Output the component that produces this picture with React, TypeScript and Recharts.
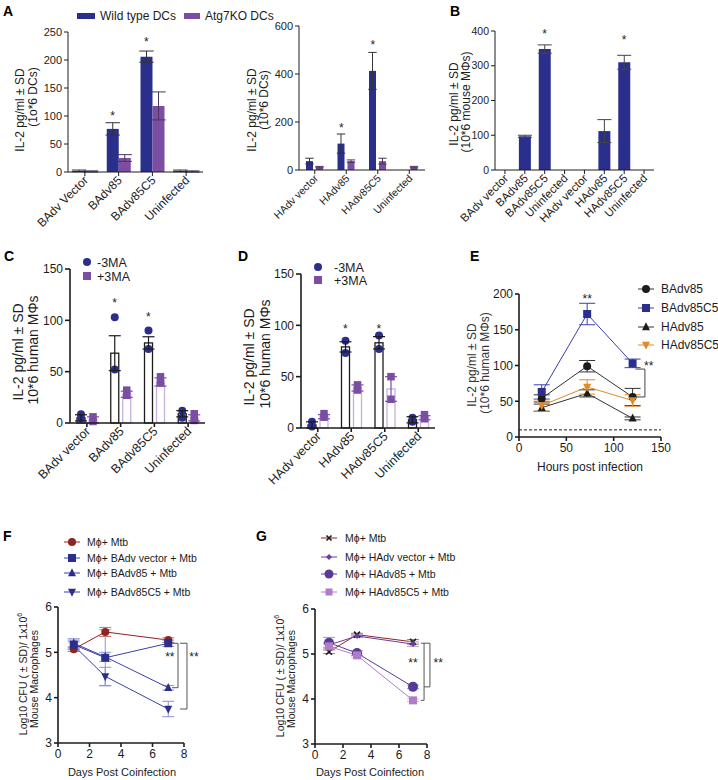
import React from "react";
import {
  BarChart,
  Bar,
  XAxis,
  YAxis,
  ErrorBar,
  LineChart,
  Line,
  ReferenceLine,
  ReferenceDot,
} from "recharts";

const FONT = "'Liberation Sans', Arial, Helvetica, sans-serif";
const INK = "#1c1c1c";
const NAVY = "#2b2f8c";
const PURPLE = "#7b4ea3";
const LILAC = "#c6b0de";
const DARKRED = "#8e2424";
const ORANGE = "#e08a2a";
const VIOLET = "#6a3d9e";
const PLUM = "#5a3a98";
const ORCHID = "#b07cc8";

// A (left): IL-2 from BAdv infected DCs
const aBCats = ["BAdv Vector", "BAdv85", "BAdv85C5", "Uninfected"];
const aBWild = [2, 77, 206, 2];
const aBWildSd = [1.5, 11, 10, 1.5];
const aBKo = [1, 25, 118, 1];
const aBKoSd = [1, 6, 25, 1];
const aBStars: [string, number][] = [["BAdv85", 105], ["BAdv85C5", 237]];

// A (right): HAdv infected DCs
const aHCats = ["HAdv vector", "HAdv85", "HAdv85C5", "Uninfected"];
const aHWild = [37, 110, 413, 0];
const aHWildSd = [12, 40, 77, 0];
const aHKo = [12, 37, 37, 12];
const aHKoSd = [3, 5, 12, 3];
const aHStars: [string, number][] = [["HAdv85", 187], ["HAdv85C5", 533]];

// B: mouse macrophages
const bCats = ["BAdv vector", "BAdv85", "BAdv85C5", "Uninfected", "HAdv vector", "HAdv85", "HAdv85C5", "Uninfected"];
const bMean = [0, 97, 348, 0, 0, 112, 310, 0];
const bSd = [0, 3, 12, 0, 0, 33, 20, 0];
const bStars: [number, number][] = [[2, 400], [6, 382]];

// C: human macrophages, BAdv
const cCats = ["BAdv vector", "BAdv85", "BAdv85C5", "Uninfected"];
const cMinus = [5, 68, 78, 9];
const cMinusSd = [3, 17, 6, 3];
const cPlus = [3, 28, 40, 5];
const cPlusSd = [3, 3, 4, 3];
const cMinusPts = [[8.5, 4.6], [103, 52], [90, 72], [12, 5]];
const cPlusPts = [[6, 1.5], [32, 27], [45, 39], [9, 2.5]];
const cStars: [string, number][] = [["BAdv85", 120], ["BAdv85C5", 106]];

// D: human macrophages, HAdv
const dCats = ["HAdv vector", "HAdv85", "HAdv85C5", "Uninfected"];
const dMinus = [3, 79, 83, 8];
const dMinusSd = [3, 5, 6, 3];
const dPlus = [11, 39, 38, 10];
const dPlusSd = [2, 3, 12, 2];
const dMinusPts = [[6, 1.5], [85, 73], [90, 77], [10, 6]];
const dPlusPts = [[14, 10.5], [42, 37], [50, 28], [13, 9]];
const dStars: [string, number][] = [["HAdv85", 99], ["HAdv85C5", 99]];

// E: kinetics
const eHours = [24, 72, 120];
const eB85 = [54, 99, 56];
const eB85Sd = [5, 8, 12];
const eB85C5 = [63, 172, 103];
const eB85C5Sd = [10, 15, 6];
const eH85 = [41, 61, 26];
const eH85Sd = [5, 5, 2];
const eH85C5 = [44, 70, 51];
const eH85C5Sd = [8, 10, 8];

// F: BAdv, CFU
const fDays = [1, 3, 7];
const fMtb = [5.07, 5.45, 5.27];
const fMtbSd = [0.05, 0.1, 0.05];
const fVec = [5.17, 4.88, 5.2];
const fVecSd = [0.1, 0.62, 0.07];
const f85 = [5.2, 4.9, 4.22];
const f85Sd = [0.1, 0.1, 0.05];
const f85C5 = [5.15, 4.47, 3.75];
const f85C5Sd = [0.08, 0.2, 0.17];

// G: HAdv, CFU
const gDays = [1, 3, 7];
const gMtb = [5.05, 5.43, 5.27];
const gMtbSd = [0.04, 0.03, 0.05];
const gVec = [5.2, 5.4, 5.22];
const gVecSd = [0.05, 0.03, 0.05];
const g85 = [5.25, 5.02, 4.27];
const g85Sd = [0.12, 0.05, 0.04];
const g85C5 = [5.17, 4.97, 3.97];
const g85C5Sd = [0.05, 0.04, 0.03];

const PAD = 24;
function frame(x0: number, y0: number, x1: number, y1: number, yw: number, xh: number) {
  return {
    style: { position: "absolute" as const, left: x0 - yw, top: y0 - PAD },
    width: x1 - x0 + yw + PAD,
    height: y1 - y0 + PAD + xh,
    margin: { top: PAD, right: PAD, bottom: 0, left: 0 },
  };
}

const AX = { stroke: INK, strokeWidth: 1 };
const AX2 = { stroke: INK, strokeWidth: 1.6 };

function Marker({ kind, cx, cy, s, color }: any) {
  if (kind === "circle") return <circle cx={cx} cy={cy} r={s / 2} fill={color} />;
  if (kind === "square") return <rect x={cx - s / 2} y={cy - s / 2} width={s} height={s} fill={color} />;
  if (kind === "tri")
    return <polygon points={`${cx},${cy - s * 0.6} ${cx - s / 2},${cy + s * 0.4} ${cx + s / 2},${cy + s * 0.4}`} fill={color} />;
  if (kind === "down")
    return <polygon points={`${cx},${cy + s * 0.6} ${cx - s / 2},${cy - s * 0.4} ${cx + s / 2},${cy - s * 0.4}`} fill={color} />;
  if (kind === "diamond")
    return <polygon points={`${cx},${cy - s / 2} ${cx + s / 2},${cy} ${cx},${cy + s / 2} ${cx - s / 2},${cy}`} fill={color} />;
  // cross
  const h = s / 2;
  return (
    <g stroke={color} strokeWidth={1.6}>
      <line x1={cx - h} y1={cy - h} x2={cx + h} y2={cy + h} />
      <line x1={cx - h} y1={cy + h} x2={cx + h} y2={cy - h} />
    </g>
  );
}

function SlantTick(props: any) {
  const { x, y, payload, size, labels } = props;
  const text = labels ? labels[payload.value] : payload.value;
  return (
    <text transform={`translate(${x + 4},${y + 3}) rotate(-45)`} textAnchor="end" fontSize={size} fill={INK}>
      {text}
    </text>
  );
}

const starShape = (dx: number, text = "*") => (p: any) => (
  <text x={p.cx + dx} y={p.cy + 7} textAnchor="middle" fontSize={12} fill={INK}>
    {text}
  </text>
);

function DcBars({ plot, cats, wild, wildSd, ko, koSd, stars, max, ticks, barSize, gap, catSize }: any) {
  const data = cats.map((c: string, i: number) => ({ cat: c, wild: wild[i], wildSd: wildSd[i], ko: ko[i], koSd: koSd[i] }));
  const f = frame(plot[0], plot[1], plot[2], plot[3], 40, 80);
  return (
    <div style={f.style}>
      <BarChart width={f.width} height={f.height} margin={f.margin} data={data} barGap={gap}>
        <XAxis dataKey="cat" interval={0} height={80} tickSize={4} axisLine={AX} tickLine={AX}
          tick={(p: any) => <SlantTick {...p} size={catSize} />} />
        <YAxis width={40} domain={[0, max]} ticks={ticks} interval={0} tickSize={4} axisLine={AX} tickLine={AX}
          tick={{ fontSize: 11, fill: INK }} />
        <Bar dataKey="wild" fill={NAVY} barSize={barSize} isAnimationActive={false}>
          <ErrorBar dataKey="wildSd" direction="y" width={barSize * 0.6} stroke="#333" strokeWidth={1} isAnimationActive={false} />
        </Bar>
        <Bar dataKey="ko" fill={PURPLE} barSize={barSize} isAnimationActive={false}>
          <ErrorBar dataKey="koSd" direction="y" width={barSize * 0.6} stroke="#4a3560" strokeWidth={1} isAnimationActive={false} />
        </Bar>
        {stars.map(([c, v]: any) => (
          <ReferenceDot key={c} x={c} y={v} r={0} shape={starShape(-(barSize + gap) / 2)} />
        ))}
      </BarChart>
    </div>
  );
}

function MouseBars() {
  const data = bCats.map((c, i) => ({ k: i, v: bMean[i], sd: bSd[i] }));
  const f = frame(495, 31, 654, 170, 40, 80);
  return (
    <div style={f.style}>
      <BarChart width={f.width} height={f.height} margin={f.margin} data={data}>
        <XAxis dataKey="k" interval={0} height={80} tickSize={4} axisLine={AX} tickLine={AX}
          tick={(p: any) => <SlantTick {...p} size={11.5} labels={bCats} />} />
        <YAxis width={40} domain={[0, 400]} ticks={[0, 100, 200, 300, 400]} interval={0} tickSize={4} axisLine={AX}
          tickLine={AX} tick={{ fontSize: 10.5, fill: INK }} />
        <Bar dataKey="v" fill={NAVY} barSize={12} isAnimationActive={false}>
          <ErrorBar dataKey="sd" direction="y" width={7} stroke="#444" strokeWidth={1} isAnimationActive={false} />
        </Bar>
        {bStars.map(([k, v]) => (
          <ReferenceDot key={k} x={k} y={v} r={0} shape={starShape(0)} />
        ))}
      </BarChart>
    </div>
  );
}

function dotBar(points: number[][], outline: string, kind: string, color: string, max: number) {
  return (props: any) => {
    const { x, y, width, height, index, background, value } = props;
    const base = background && background.height ? background.y + background.height : y + height;
    const unit = background && background.height ? background.height / max : height / (value || 1);
    return (
      <g>
        <rect x={x} y={y} width={width} height={height} fill="#fff" stroke={outline} strokeWidth={1.3} />
        {points[index].map((v, i) => (
          <Marker key={i} kind={kind} cx={x + width / 2} cy={base - v * unit} s={kind === "circle" ? 8 : 7.5} color={color} />
        ))}
      </g>
    );
  };
}

function MaBars({ plot, cats, minus, minusSd, plus, plusSd, minusPts, plusPts, stars }: any) {
  const data = cats.map((c: string, i: number) => ({
    cat: c, minus: minus[i], minusSd: minusSd[i], plus: plus[i], plusSd: plusSd[i],
  }));
  const f = frame(plot[0], plot[1], plot[2], plot[3], 40, 80);
  return (
    <div style={f.style}>
      <BarChart width={f.width} height={f.height} margin={f.margin} data={data} barGap={4}>
        <XAxis dataKey="cat" interval={0} height={80} tickSize={4} axisLine={AX2} tickLine={AX2}
          tick={(p: any) => <SlantTick {...p} size={12.5} />} />
        <YAxis width={40} domain={[0, 150]} ticks={[0, 50, 100, 150]} interval={0} tickSize={5} axisLine={AX2}
          tickLine={AX2} tick={{ fontSize: 12, fill: INK }} />
        <Bar dataKey="minus" barSize={8} isAnimationActive={false} shape={dotBar(minusPts, INK, "circle", NAVY, 150)}>
          <ErrorBar dataKey="minusSd" direction="y" width={6} stroke={INK} strokeWidth={1.2} isAnimationActive={false} />
        </Bar>
        <Bar dataKey="plus" barSize={8} isAnimationActive={false} shape={dotBar(plusPts, LILAC, "square", PURPLE, 150)}>
          <ErrorBar dataKey="plusSd" direction="y" width={6} stroke={PURPLE} strokeWidth={1.2} isAnimationActive={false} />
        </Bar>
        {stars.map(([c, v]: any) => (
          <ReferenceDot key={c} x={c} y={v} r={0} shape={starShape(-6)} />
        ))}
      </BarChart>
    </div>
  );
}

function series(list: any[], errW: number) {
  return list.map((s) => (
    <Line key={s.key} dataKey={s.key} stroke={s.line} strokeWidth={1} isAnimationActive={false} activeDot={false}
      dot={(p: any) => <Marker key={`${s.key}-${p.index}`} kind={s.kind} cx={p.cx} cy={p.cy} s={s.size} color={s.color} />}>
      <ErrorBar dataKey={`${s.key}Sd`} direction="y" width={errW} stroke={s.err} strokeWidth={1} isAnimationActive={false} />
    </Line>
  ));
}

const eSeries = [
  { key: "b85", kind: "circle", size: 8, color: INK, line: "#333", err: "#333" },
  { key: "b85c5", kind: "square", size: 8, color: NAVY, line: "#3a3fb0", err: "#3a3fb0" },
  { key: "h85", kind: "tri", size: 8, color: INK, line: "#333", err: "#333" },
  { key: "h85c5", kind: "down", size: 8, color: ORANGE, line: ORANGE, err: ORANGE },
];

function Kinetics() {
  const rows = eHours.map((h, i) => ({
    h, b85: eB85[i], b85Sd: eB85Sd[i], b85c5: eB85C5[i], b85c5Sd: eB85C5Sd[i],
    h85: eH85[i], h85Sd: eH85Sd[i], h85c5: eH85C5[i], h85c5Sd: eH85C5Sd[i],
  }));
  const f = frame(519, 294, 661, 437, 40, 30);
  return (
    <div style={f.style}>
      <LineChart width={f.width} height={f.height} margin={f.margin} data={rows}>
        <XAxis dataKey="h" type="number" domain={[0, 150]} ticks={[0, 50, 100, 150]} interval={0} height={30}
          tickSize={4} axisLine={AX2} tickLine={AX2} tick={{ fontSize: 12, fill: INK }} />
        <YAxis width={40} domain={[0, 200]} ticks={[0, 50, 100, 150, 200]} interval={0} tickSize={4} axisLine={AX2}
          tickLine={AX2} tick={{ fontSize: 12, fill: INK }} />
        <ReferenceLine y={10} stroke={INK} strokeWidth={1} strokeDasharray="3 2" />
        {series(eSeries, 8)}
        <ReferenceDot x={72} y={197} r={0} shape={starShape(0, "**")} />
        <ReferenceLine segment={[{ x: 123, y: 95 }, { x: 133, y: 95 }]} stroke="#444" ifOverflow="visible" />
        <ReferenceLine segment={[{ x: 133, y: 95 }, { x: 133, y: 56 }]} stroke="#444" ifOverflow="visible" />
        <ReferenceLine segment={[{ x: 123, y: 56 }, { x: 133, y: 56 }]} stroke="#444" ifOverflow="visible" />
        <ReferenceDot x={137} y={103} r={0} shape={starShape(0, "**")} ifOverflow="visible" />
      </LineChart>
    </div>
  );
}

function bracket(key: string, xTab: number, xBar: number, top: number, bottom: number) {
  return [
    <ReferenceLine key={`${key}a`} segment={[{ x: xTab, y: top }, { x: xBar, y: top }]} stroke="#555" ifOverflow="visible" />,
    <ReferenceLine key={`${key}b`} segment={[{ x: xBar, y: top }, { x: xBar, y: bottom }]} stroke="#555" ifOverflow="visible" />,
    <ReferenceLine key={`${key}c`} segment={[{ x: xTab, y: bottom }, { x: xBar, y: bottom }]} stroke="#555" ifOverflow="visible" />,
  ];
}

const fSeries = [
  { key: "mtb", kind: "circle", size: 8, color: DARKRED, line: DARKRED, err: "#c07070" },
  { key: "vec", kind: "square", size: 8, color: NAVY, line: "#3a40a8", err: "#8d92d2" },
  { key: "b85", kind: "tri", size: 8, color: NAVY, line: "#3a40a8", err: "#8d92d2" },
  { key: "b85c5", kind: "down", size: 8, color: NAVY, line: "#3a40a8", err: "#8d92d2" },
];

const gSeries = [
  { key: "mtb", kind: "cross", size: 6, color: INK, line: DARKRED, err: "#c07070" },
  { key: "vec", kind: "diamond", size: 6, color: VIOLET, line: VIOLET, err: "#b39bd0" },
  { key: "h85", kind: "circle", size: 10, color: PLUM, line: PLUM, err: "#a593cc" },
  { key: "h85c5", kind: "square", size: 8, color: ORCHID, line: ORCHID, err: "#d6b6e2" },
];

function Cfu({ plot, rows, list, brackets }: any) {
  const f = frame(plot[0], plot[1], plot[2], plot[3], 40, 30);
  return (
    <div style={f.style}>
      <LineChart width={f.width} height={f.height} margin={f.margin} data={rows}>
        <XAxis dataKey="d" type="number" domain={[0, 8]} ticks={[0, 2, 4, 6, 8]} interval={0} height={30}
          tickSize={4} axisLine={AX2} tickLine={AX2} tick={{ fontSize: 12, fill: INK }} />
        <YAxis width={40} domain={[3, 6]} ticks={[3, 4, 5, 6]} interval={0} tickSize={4} axisLine={AX2} tickLine={AX2}
          tick={{ fontSize: 12, fill: INK }} />
        {series(list, 6)}
        {brackets}
      </LineChart>
    </div>
  );
}

function VText({ x, y, size, children, fill = INK }: any) {
  return (
    <text transform={`translate(${x},${y}) rotate(-90)`} textAnchor="middle" dominantBaseline="central" fontSize={size} fill={fill}>
      {children}
    </text>
  );
}

function LegendRow({ x, y, kind, s, color, line, label, size, tx }: any) {
  return (
    <g>
      <line x1={x - 8} x2={x + 8} y1={y} y2={y} stroke={line} strokeWidth={1} />
      <Marker kind={kind} cx={x} cy={y} s={s} color={color} />
      <text x={tx} y={y + size * 0.36} fontSize={size} fill={INK}>{label}</text>
    </g>
  );
}

export default function App() {
  const fRows = fDays.map((d, i) => ({
    d, mtb: fMtb[i], mtbSd: fMtbSd[i], vec: fVec[i], vecSd: fVecSd[i],
    b85: f85[i], b85Sd: f85Sd[i], b85c5: f85C5[i], b85c5Sd: f85C5Sd[i],
  }));
  const gRows = gDays.map((d, i) => ({
    d, mtb: gMtb[i], mtbSd: gMtbSd[i], vec: gVec[i], vecSd: gVecSd[i],
    h85: g85[i], h85Sd: g85Sd[i], h85c5: g85C5[i], h85c5Sd: g85C5Sd[i],
  }));
  const fBrackets = [
    ...bracket("f1", 7.24, 7.62, 5.2, 4.22),
    ...bracket("f2", 7.75, 8.19, 5.2, 3.75),
    <ReferenceDot key="fs1" x={7.1} y={4.97} r={0} shape={starShape(0, "**")} ifOverflow="visible" />,
    <ReferenceDot key="fs2" x={8.63} y={4.97} r={0} shape={starShape(0, "**")} ifOverflow="visible" />,
  ];
  const gBrackets = [
    ...bracket("g1", 7.57, 7.79, 5.24, 3.97),
    ...bracket("g2", 7.79, 8.21, 5.24, 4.27),
    <ReferenceDot key="gs1" x={7.0} y={4.87} r={0} shape={starShape(0, "**")} ifOverflow="visible" />,
    <ReferenceDot key="gs2" x={8.8} y={4.87} r={0} shape={starShape(0, "**")} ifOverflow="visible" />,
  ];

  return (
    <div style={{ position: "absolute", left: 0, top: 0, width: 718, height: 780, background: "#fff", fontFamily: FONT, overflow: "hidden" }}>
      <style>{`.recharts-surface{overflow:visible}`}</style>
      <DcBars plot={[68, 32, 203, 172]} cats={aBCats} wild={aBWild} wildSd={aBWildSd} ko={aBKo} koSd={aBKoSd}
        stars={aBStars} max={250} ticks={[0, 50, 100, 150, 200, 250]} barSize={12} gap={0} catSize={12} />
      <DcBars plot={[299, 26, 425, 170]} cats={aHCats} wild={aHWild} wildSd={aHWildSd} ko={aHKo} koSd={aHKoSd}
        stars={aHStars} max={600} ticks={[0, 200, 400, 600]} barSize={7} gap={3} catSize={10.5} />
      <MouseBars />
      <MaBars plot={[70, 269, 205, 423]} cats={cCats} minus={cMinus} minusSd={cMinusSd} plus={cPlus} plusSd={cPlusSd}
        minusPts={cMinusPts} plusPts={cPlusPts} stars={cStars} />
      <MaBars plot={[301, 274, 435, 428]} cats={dCats} minus={dMinus} minusSd={dMinusSd} plus={dPlus} plusSd={dPlusSd}
        minusPts={dMinusPts} plusPts={dPlusPts} stars={dStars} />
      <Kinetics />
      <Cfu plot={[58, 607, 184, 743]} rows={fRows} list={fSeries} brackets={fBrackets} />
      <Cfu plot={[315, 609, 427, 744]} rows={gRows} list={gSeries} brackets={gBrackets} />

      <svg width={718} height={780} style={{ position: "absolute", left: 0, top: 0, pointerEvents: "none" }}>
        <g fontWeight="bold" fontSize={14} fill="#000">
          <text x={3} y={16}>A</text>
          <text x={450} y={16}>B</text>
          <text x={4} y={261}>C</text>
          <text x={238} y={261}>D</text>
          <text x={470} y={261}>E</text>
          <text x={3} y={541}>F</text>
          <text x={256} y={541}>G</text>
        </g>

        {/* A legend */}
        <rect x={77} y={13} width={18} height={6} fill={NAVY} />
        <text x={100} y={20} fontSize={12} fill={INK}>Wild type DCs</text>
        <rect x={184} y={13} width={16} height={6} fill={PURPLE} />
        <text x={205} y={20} fontSize={12} fill={INK}>Atg7KO DCs</text>

        <VText x={20} y={110} size={12}>IL-2 pg/ml ± SD</VText>
        <VText x={33} y={97} size={12}>(1o*6 DCs)</VText>
        <VText x={252} y={110} size={12}>IL-2 pg/ml ± SD</VText>
        <VText x={264} y={100} size={12}>(10*6 DCs)</VText>
        <VText x={454} y={104} size={12}>IL-2 pg/ml ± SD</VText>
        <VText x={466} y={102} size={12}>(10*6 mouse MΦs)</VText>

        {/* C / D legends */}
        <Marker kind="circle" cx={87} cy={262} s={8} color={NAVY} />
        <text x={97} y={266.5} fontSize={12.5} fill={INK}>-3MA</text>
        <Marker kind="square" cx={87} cy={276} s={8} color={PURPLE} />
        <text x={97} y={280.5} fontSize={12.5} fill={INK}>+3MA</text>
        <VText x={18} y={352} size={14}>IL-2 pg/ml ± SD</VText>
        <VText x={33} y={350} size={14}>10*6 human MΦs</VText>

        <Marker kind="circle" cx={318} cy={267} s={8} color={NAVY} />
        <text x={334} y={271.5} fontSize={12.5} fill={INK}>-3MA</text>
        <Marker kind="square" cx={318} cy={280} s={8} color={PURPLE} />
        <text x={334} y={284.5} fontSize={12.5} fill={INK}>+3MA</text>
        <VText x={249} y={357} size={14}>IL-2 pg/ml ± SD</VText>
        <VText x={265} y={354} size={14}>10*6 human MΦs</VText>

        {/* E */}
        <VText x={472} y={365} size={12} fill="#333">IL-2 pg/ml ± SD</VText>
        <VText x={485} y={363} size={12} fill="#333">(10*6 human MΦs)</VText>
        <text x={590} y={471} fontSize={12} textAnchor="middle" fill={INK}>Hours post infection</text>
        <LegendRow x={646} y={289} kind="circle" s={8} color={INK} line="#333" label="BAdv85" size={12} tx={661} />
        <LegendRow x={646} y={308} kind="square" s={8} color={NAVY} line="#3a3fb0" label="BAdv85C5" size={12} tx={661} />
        <LegendRow x={646} y={327} kind="tri" s={8} color={INK} line="#333" label="HAdv85" size={12} tx={661} />
        <LegendRow x={646} y={345} kind="down" s={8} color={ORANGE} line={ORANGE} label="HAdv85C5" size={12} tx={661} />

        {/* F */}
        <LegendRow x={72} y={542} kind="circle" s={8} color={DARKRED} line={DARKRED} label="Mϕ+ Mtb" size={10.5} tx={87} />
        <LegendRow x={72} y={558} kind="square" s={8} color={NAVY} line="#3a40a8" label="Mϕ+ BAdv vector + Mtb" size={10.5} tx={87} />
        <LegendRow x={72} y={573} kind="tri" s={8} color={NAVY} line="#3a40a8" label="Mϕ+ BAdv85 + Mtb" size={10.5} tx={87} />
        <LegendRow x={72} y={592} kind="down" s={8} color={NAVY} line="#3a40a8" label="Mϕ+ BAdv85C5 + Mtb" size={10.5} tx={87} />
        <text transform="translate(23,674) rotate(-90)" textAnchor="middle" dominantBaseline="central" fontSize={10.5} fill={INK}>
          Log10 CFU ( ± SD)/ 1x10<tspan dy={-4} fontSize={7}>6</tspan>
        </text>
        <VText x={34} y={679} size={10.5}>Mouse Macrophages</VText>
        <text x={122} y={776} fontSize={11} textAnchor="middle" fill={INK}>Days Post Coinfection</text>

        {/* G */}
        <LegendRow x={329} y={538} kind="cross" s={5} color={INK} line={DARKRED} label="Mϕ+ Mtb" size={10.5} tx={345} />
        <LegendRow x={329} y={557} kind="diamond" s={6} color={VIOLET} line={VIOLET} label="Mϕ+ HAdv vector + Mtb" size={10.5} tx={345} />
        <LegendRow x={329} y={574} kind="circle" s={9} color={PLUM} line={PLUM} label="Mϕ+ HAdv85 + Mtb" size={10.5} tx={345} />
        <LegendRow x={329} y={592} kind="square" s={7} color={ORCHID} line={ORCHID} label="Mϕ+ HAdv85C5 + Mtb" size={10.5} tx={345} />
        <text transform="translate(280,676) rotate(-90)" textAnchor="middle" dominantBaseline="central" fontSize={10.5} fill={INK}>
          Log10 CFU ( ± SD)/ 1x10<tspan dy={-4} fontSize={7}>6</tspan>
        </text>
        <VText x={291} y={679} size={10.5}>Mouse Macrophages</VText>
        <text x={370} y={776} fontSize={11} textAnchor="middle" fill={INK}>Days Post Coinfection</text>
      </svg>
    </div>
  );
}
